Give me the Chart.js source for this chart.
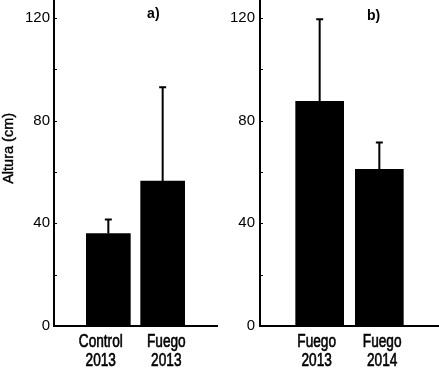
<!DOCTYPE html>
<html><head><meta charset="utf-8">
<script src="https://cdn.jsdelivr.net/npm/chart.js@4"></script>
<style>
html,body{margin:0;padding:0;background:#fff;}
#wrap{position:relative;width:439px;height:381px;overflow:hidden;background:#fff}
.panel{position:absolute;top:0;height:381px}
</style></head><body>
<div id="wrap">
<div class="panel" style="left:0;width:220px"><canvas id="ca" width="220" height="381"></canvas></div>
<div class="panel" style="left:220px;width:219px"><canvas id="cb" width="219" height="381"></canvas></div>
</div>
<script>
// ---- data ----
const categoriesA = [['Control', '2013'], ['Fuego', '2013']];
const meansA = [36, 56.5];
const errorsA = [5.5, 36.5];
const categoriesB = [['Fuego', '2013'], ['Fuego', '2014']];
const meansB = [87.5, 61];
const errorsB = [32, 10.5];
const yTickValues = [0, 20, 40, 60, 80, 100, 120];
const yTickLabels = ['0', '', '40', '', '80', '', '120'];
const panelLabels = ['a)', 'b)'];
const yTitle = 'Altura (cm)';

const REG = '"Liberation Sans", Arial, Helvetica, sans-serif';

const decorPlugin = {
  id: 'decor',
  afterDraw(chart, args, opts) {
    const ctx = chart.ctx;
    const xs = chart.scales.x, ys = chart.scales.y;
    const meta = chart.getDatasetMeta(0);
    const ds = chart.data.datasets[0];
    ctx.save();
    ctx.strokeStyle = '#000';
    ctx.fillStyle = '#000';
    ctx.lineWidth = 2;
    // error bars (upper only, with cap)
    meta.data.forEach((bar, i) => {
      const yTop = ys.getPixelForValue(ds.means[i] + ds.errs[i]);
      ctx.beginPath();
      ctx.moveTo(bar.x, bar.y);
      ctx.lineTo(bar.x, yTop);
      ctx.moveTo(bar.x - 3.5, yTop);
      ctx.lineTo(bar.x + 3.5, yTop);
      ctx.stroke();
    });
    // small inward tick marks
    ctx.lineWidth = 1;
    const ax = chart.chartArea.left;
    yTickValues.forEach(v => {
      if (v === 0) return;
      const py = Math.round(ys.getPixelForValue(v)) + 0.5;
      ctx.beginPath();
      ctx.moveTo(ax + 1, py);
      ctx.lineTo(ax + 3, py);
      ctx.stroke();
    });
    // condensed category labels under the x axis
    ctx.font = '17.5px ' + REG;
    ctx.textAlign = 'center';
    ctx.textBaseline = 'alphabetic';
    ctx.lineWidth = 0.6;
    const bottom = chart.chartArea.bottom;
    opts.cats.forEach((lines, i) => {
      const px = xs.getPixelForValue(opts.labelAt[i]);
      lines.forEach((t, j) => {
        ctx.save();
        ctx.translate(px, bottom + 20.7 + j * 19.3);
        ctx.scale(0.78, 1);
        ctx.fillText(t, 0, 0);
        ctx.strokeText(t, 0, 0);
        ctx.restore();
      });
    });
    // panel letter
    ctx.font = 'bold 14px ' + REG;
    ctx.fillText(opts.label, xs.getPixelForValue(opts.labelX), ys.getPixelForValue(opts.labelY));
    // y axis title
    if (opts.title) {
      ctx.save();
      ctx.translate(13, ys.getPixelForValue(69.2));
      ctx.rotate(-Math.PI / 2);
      ctx.font = '14.5px ' + REG;
      ctx.lineWidth = 0.4;
      ctx.fillText(opts.title, 0, 0);
      ctx.strokeText(opts.title, 0, 0);
      ctx.restore();
    }
    ctx.restore();
  }
};

function makeChart(id, cats, means, errs, cfg) {
  const data = means.map((m, i) => ({ x: i + 1, y: m }));
  return new Chart(document.getElementById(id), {
    type: 'bar',
    data: { datasets: [{ data, means, errs, backgroundColor: '#000', borderWidth: 0, barThickness: cfg.barW }] },
    options: {
      responsive: false,
      animation: false,
      layout: { padding: { left: 0, right: cfg.padRight, top: 0, bottom: 0 } },
      plugins: {
        legend: { display: false },
        tooltip: { enabled: false },
        decor: { cats, labelAt: cfg.labelAt, label: cfg.label, labelX: cfg.labelX, labelY: cfg.labelY, title: cfg.title }
      },
      scales: {
        x: {
          type: 'linear', min: 0, max: 3, offset: false,
          grid: { display: false, drawTicks: false, offset: false },
          border: { display: true, color: '#000', width: 2 },
          afterBuildTicks: s => { s.ticks = cfg.labelAt.map(v => ({ value: v })); },
          ticks: { display: false },
          afterFit: s => { s.height = 55; s.paddingLeft = 0; s.paddingRight = 0; }
        },
        y: {
          min: 0, max: 127,
          grid: { display: false, drawTicks: false },
          border: { display: true, color: '#000', width: 2 },
          afterBuildTicks: s => { s.ticks = yTickValues.map(v => ({ value: v })); },
          ticks: {
            padding: cfg.yPad, color: '#000', autoSkip: false,
            font: { family: REG, size: 15 },
            callback: (v, i) => yTickLabels[i]
          },
          afterFit: s => { s.width = cfg.yW; s.paddingTop = 0; s.paddingBottom = 0; }
        }
      }
    },
    plugins: [decorPlugin]
  });
}

makeChart('ca', categoriesA, meansA, errorsA, {
  barW: 44, padRight: 3, yW: 54, yPad: 4, labelAt: [0.861, 2.067],
  label: panelLabels[0], labelX: 1.828, labelY: 119.8, title: yTitle
});
makeChart('cb', categoriesB, meansB, errorsB, {
  barW: 48, padRight: 0, yW: 40, yPad: 5, labelAt: [0.95, 2.048],
  label: panelLabels[1], labelX: 1.905, labelY: 119.4, title: null
});
</script>
</body></html>
